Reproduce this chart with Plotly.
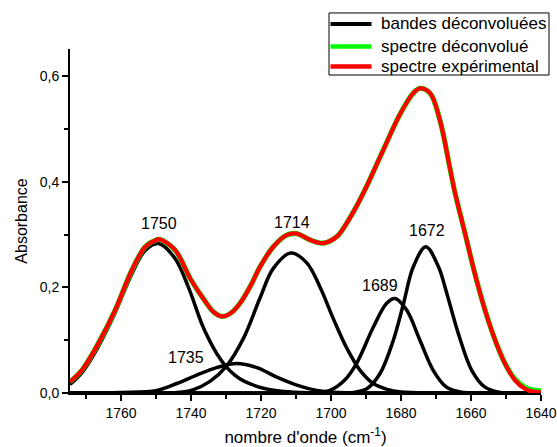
import plotly.graph_objects as go

# ---------------- data ----------------
# experimental spectrum (red) and deconvoluted spectrum (green)
wn_spectre = [1774.6, 1771.0, 1766.5, 1761.7, 1756.9, 1753.1, 1750.0, 1748.9, 1744.6, 1740.0,
              1736.0, 1733.5, 1731.0, 1728.5, 1726.0, 1723.0, 1720.3, 1716.5, 1712.7, 1709.8,
              1706.0, 1702.2, 1698.4, 1695.5, 1692.7, 1689.8, 1685.1, 1680.3, 1676.5, 1674.6,
              1671.7, 1668.9, 1666.0, 1664.6, 1661.7, 1658.9, 1656.0, 1653.1, 1650.3, 1647.4,
              1644.6, 1642.7, 1640.0]
spectre_experimental = [0.021, 0.045, 0.094, 0.157, 0.233, 0.277, 0.290, 0.291, 0.271, 0.214,
                        0.174, 0.153, 0.145, 0.152, 0.170, 0.203, 0.239, 0.277, 0.299, 0.302,
                        0.290, 0.284, 0.296, 0.322, 0.354, 0.392, 0.460, 0.528, 0.568, 0.577,
                        0.568, 0.517, 0.425, 0.380, 0.302, 0.226, 0.157, 0.100, 0.056, 0.024,
                        0.008, 0.003, 0.001]
spectre_deconvolue = [0.021, 0.045, 0.094, 0.157, 0.233, 0.277, 0.290, 0.291, 0.271, 0.214,
                      0.174, 0.153, 0.145, 0.152, 0.170, 0.203, 0.239, 0.277, 0.299, 0.302,
                      0.290, 0.284, 0.296, 0.322, 0.354, 0.392, 0.460, 0.528, 0.568, 0.577,
                      0.568, 0.517, 0.425, 0.380, 0.302, 0.226, 0.157, 0.100, 0.056, 0.026,
                      0.011, 0.006, 0.004]

# deconvoluted bands (black)
wn_b1750 = [1774.6, 1771.0, 1766.5, 1761.7, 1756.9, 1753.1, 1749.3, 1744.6, 1740.8, 1737.0,
            1735.0, 1732.5, 1730.0, 1727.5, 1725.0, 1719.3, 1713.6, 1705.0, 1690.0, 1670.0, 1640.0]
b1750 = [0.016, 0.040, 0.088, 0.152, 0.226, 0.270, 0.283, 0.255, 0.201, 0.132,
         0.103, 0.073, 0.050, 0.034, 0.023, 0.009, 0.003, 0.0005, 0.0, 0.0, 0.0]

wn_b1735 = [1774.6, 1760.0, 1749.8, 1744.1, 1738.4, 1732.7, 1727.0, 1721.2, 1715.5, 1709.8,
            1704.1, 1700.3, 1690.0, 1670.0, 1640.0]
b1735 = [0.0, 0.001, 0.005, 0.018, 0.034, 0.048, 0.0557, 0.048, 0.030, 0.015,
         0.005, 0.002, 0.0, 0.0, 0.0]

wn_b1714 = [1774.6, 1750.0, 1744.0, 1739.5, 1734.6, 1730.0, 1725.0, 1720.3, 1716.5, 1711.5,
            1707.0, 1703.1, 1699.3, 1695.5, 1691.7, 1687.9, 1684.0, 1680.0, 1670.0, 1640.0]
b1714 = [0.0, 0.0, 0.001, 0.006, 0.022, 0.050, 0.104, 0.180, 0.236, 0.265,
         0.247, 0.200, 0.140, 0.085, 0.043, 0.018, 0.007, 0.002, 0.0, 0.0]

wn_b1689 = [1774.6, 1710.0, 1705.0, 1700.3, 1696.0, 1692.7, 1687.9, 1684.1, 1681.7, 1678.4,
            1674.6, 1670.8, 1667.0, 1663.1, 1655.0, 1640.0]
b1689 = [0.0, 0.0, 0.0, 0.005, 0.025, 0.056, 0.125, 0.170, 0.179, 0.157,
         0.100, 0.043, 0.011, 0.002, 0.0, 0.0]

wn_b1672 = [1774.6, 1700.0, 1693.6, 1689.8, 1686.0, 1682.2, 1679.3, 1676.5, 1672.9, 1669.3,
            1667.4, 1663.6, 1659.8, 1656.0, 1651.7, 1640.0]
b1672 = [0.0, 0.0, 0.001, 0.008, 0.037, 0.100, 0.169, 0.239, 0.277, 0.239,
         0.200, 0.112, 0.043, 0.011, 0.001, 0.0]

band_labels = ["1750", "1735", "1714", "1689", "1672"]

legend_names = ["bandes déconvoluées", "spectre déconvolué", "spectre expérimental"]
x_tick_values = [1760, 1740, 1720, 1700, 1680, 1660, 1640]
y_tick_values = [0.0, 0.2, 0.4, 0.6]

# ---------------- figure ----------------
FONT = "Liberation Sans, Arial, sans-serif"
BLACK, GREEN, RED = "black", "#00ff00", "#ff0000"
fig = go.Figure()

bands = [(wn_b1750, b1750), (wn_b1735, b1735), (wn_b1714, b1714),
         (wn_b1689, b1689), (wn_b1672, b1672)]
for xs, ys in bands:
    fig.add_trace(go.Scatter(
        x=xs, y=ys, mode="lines",
        line=dict(color=BLACK, width=3.5, shape="spline", smoothing=1.0),
        name=legend_names[0], showlegend=False))

fig.add_trace(go.Scatter(
    x=wn_spectre, y=spectre_deconvolue, mode="lines",
    line=dict(color=GREEN, width=5.2, shape="spline", smoothing=1.0),
    name=legend_names[1], showlegend=False))
fig.add_trace(go.Scatter(
    x=wn_spectre, y=spectre_experimental, mode="lines",
    line=dict(color=RED, width=4.3, shape="spline", smoothing=1.0),
    name=legend_names[2], showlegend=False))

# band labels
label_pos = {"1750": (1749.1, 0.322), "1735": (1741.5, 0.068), "1714": (1711.1, 0.323),
             "1689": (1685.9, 0.204), "1672": (1672.5, 0.307)}
for lab in band_labels:
    xp, yp = label_pos[lab]
    fig.add_annotation(x=xp, y=yp, xref="x", yref="y", text=lab, showarrow=False,
                       font=dict(family=FONT, size=16, color="black"),
                       xanchor="center", yanchor="middle")

# ---- legend drawn as a boxed key (pixel layout converted to paper coords) ----
L, T, PW, PH, Y0 = 70, 49, 471, 343.7, 392.7
def px(xp):
    return (xp - L) / PW
def py(yp):
    return (Y0 - yp) / PH

fig.add_shape(type="rect", xref="paper", yref="paper",
              x0=px(329), x1=px(549), y0=py(75), y1=py(13),
              line=dict(color="black", width=1), fillcolor="white", layer="above")
legend_rows = [(legend_names[0], BLACK, 4, 24), (legend_names[1], GREEN, 4.7, 46.5),
               (legend_names[2], RED, 4.7, 66.5)]
for name, col, w, yrow in legend_rows:
    fig.add_shape(type="line", xref="paper", yref="paper",
                  x0=px(330.5), x1=px(371.5), y0=py(yrow), y1=py(yrow),
                  line=dict(color=col, width=w), layer="above")
    fig.add_annotation(xref="paper", yref="paper", x=px(379), y=py(yrow), text=name,
                       showarrow=False, xanchor="left", yanchor="middle",
                       font=dict(family=FONT, size=17, color="black"))

fig.update_layout(
    width=557, height=447,
    margin=dict(l=70, r=16, t=49, b=54, autoexpand=False),
    paper_bgcolor="white", plot_bgcolor="white",
    separators=", ",
    font=dict(family=FONT, size=14, color="black"),
    showlegend=False,
)

fig.update_xaxes(
    range=[1774.6, 1640], autorange=False,
    tickmode="array", tickvals=x_tick_values,
    ticks="outside", ticklen=6, tickwidth=1.5, tickcolor="black",
    minor=dict(dtick=10, tick0=1640, ticks="outside", ticklen=4, tickwidth=1.5, tickcolor="black"),
    showline=True, linecolor="black", linewidth=2,
    showgrid=False, zeroline=False, mirror=False,
    tickfont=dict(family=FONT, size=14, color="black"),
    title=dict(text="nombre d'onde (cm<sup>-1</sup>)", standoff=17,
               font=dict(family=FONT, size=17, color="black")),
)
fig.update_yaxes(
    range=[0, 0.6516], autorange=False,
    tickmode="array", tickvals=y_tick_values, tickformat=".1f",
    ticks="outside", ticklen=6, tickwidth=1.5, tickcolor="black",
    minor=dict(dtick=0.1, tick0=0, ticks="outside", ticklen=4, tickwidth=1.5, tickcolor="black"),
    showline=True, linecolor="black", linewidth=2,
    showgrid=False, zeroline=False, mirror=False,
    tickfont=dict(family=FONT, size=14, color="black"),
    title=dict(text="Absorbance", standoff=8,
               font=dict(family=FONT, size=16, color="black")),
)

fig.write_html("out.html", config={"displayModeBar": False},
               post_script="document.body.style.margin='0';")
